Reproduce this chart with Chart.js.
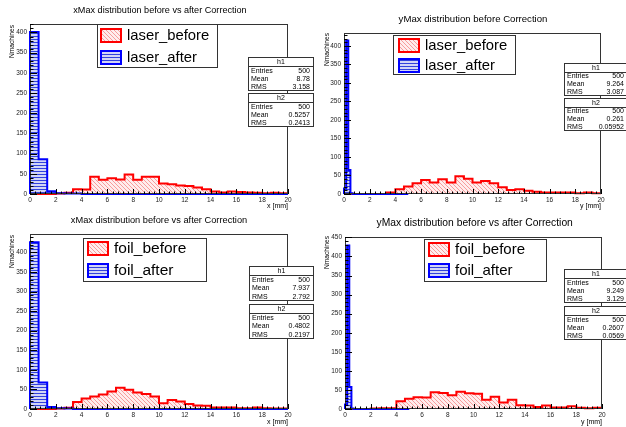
<!DOCTYPE html>
<html>
<head>
<meta charset="utf-8">
<script src="https://cdn.jsdelivr.net/npm/chart.js@4.4.1/dist/chart.umd.min.js"></script>
<style>
  html, body { margin: 0; padding: 0; background: #fff; }
  #wrap { position: relative; width: 626px; height: 427px; overflow: hidden; }
  canvas { position: absolute; }
  #c1, #c3 { z-index: 2; }
</style>
</head>
<body>
<div id="wrap">
  <canvas id="c1" width="316" height="213" style="left:0;top:0"></canvas>
  <canvas id="c2" width="313" height="213" style="left:313px;top:0"></canvas>
  <canvas id="c3" width="316" height="214" style="left:0;top:213px"></canvas>
  <canvas id="c4" width="313" height="214" style="left:313px;top:213px"></canvas>
</div>
<script>
// ---- data (30 bins per histogram) ----
const nBins = 30;
const fullRange = [0, 20];
const narrowRange = [0, 5];   // h2 of the y plots only spans 0..5 mm

const laserXBefore = [0, 0, 0, 1, 3, 12, 11, 43, 35, 39, 36, 48, 35, 43, 43, 26, 24, 21, 20, 16, 12, 6, 4, 6, 5, 4, 3, 2, 3, 2];
const laserXAfter  = [401, 86, 7, 2, 1, 1, 0, 0, 0, 0, 0, 0, 0, 0, 0, 0, 0, 0, 0, 0, 0, 0, 0, 0, 0, 0, 0, 0, 0, 0];
const laserYBefore = [0, 0, 0, 0, 0, 4, 13, 20, 29, 38, 31, 40, 31, 48, 41, 31, 35, 29, 18, 11, 13, 9, 6, 4, 4, 4, 4, 2, 4, 2];
const laserYAfter  = [15, 415, 65, 2, 0, 0, 0, 0, 0, 0, 0, 0, 0, 0, 0, 0, 0, 0, 0, 0, 0, 0, 0, 0, 0, 0, 0, 0, 0, 0];
const foilXBefore  = [0, 0, 0, 1, 3, 18, 27, 32, 37, 45, 54, 49, 42, 38, 32, 15, 23, 19, 13, 9, 8, 4, 4, 4, 2, 2, 4, 2, 1, 1];
const foilXAfter   = [426, 68, 5, 2, 1, 0, 0, 0, 0, 0, 0, 0, 0, 0, 0, 0, 0, 0, 0, 0, 0, 0, 0, 0, 0, 0, 0, 0, 0, 0];
const foilYBefore  = [0, 0, 0, 1, 2, 2, 20, 27, 31, 30, 44, 42, 36, 45, 41, 40, 24, 32, 17, 24, 10, 9, 5, 9, 4, 4, 7, 3, 2, 3];
const foilYAfter   = [12, 429, 58, 1, 0, 0, 0, 0, 0, 0, 0, 0, 0, 0, 0, 0, 0, 0, 0, 0, 0, 0, 0, 0, 0, 0, 0, 0, 0, 0];

const xTickValues = [0, 2, 4, 6, 8, 10, 12, 14, 16, 18, 20];
const yTickValues = [0, 50, 100, 150, 200, 250, 300, 350, 400];
const yTickValuesTall = [0, 50, 100, 150, 200, 250, 300, 350, 400, 450];

const titles = [
  'xMax distribution before vs after Correction',
  'yMax distribution before Correction',
  'xMax distribution before vs after Correction',
  'yMax distribution before vs after Correction'
];
const legendLabels = [
  ['laser_before', 'laser_after'],
  ['laser_before', 'laser_after'],
  ['foil_before', 'foil_after'],
  ['foil_before', 'foil_after']
];
const xAxisTitles = ['x [mm]', 'y [mm]', 'x [mm]', 'y [mm]'];
const yAxisTitle = 'Nmachines';

const statNames = ['Entries', 'Mean', 'RMS'];
const statsH1 = [['500', '8.78', '3.158'], ['500', '9.264', '3.087'], ['500', '7.937', '2.792'], ['500', '9.249', '3.129']];
const statsH2 = [['500', '0.5257', '0.2413'], ['500', '0.261', '0.05952'], ['500', '0.4802', '0.2197'], ['500', '0.2607', '0.0569']];

// ---- look ----
const FONT = "'Liberation Sans', Arial, Helvetica, sans-serif";
const RED = '#ff0000';
const BLUE = '#0000ff';

function makePattern(kind) {
  const c = document.createElement('canvas');
  const g = c.getContext('2d');
  if (kind === 'diag') {
    c.width = 4; c.height = 4;
    g.fillStyle = 'rgba(255,225,225,0.6)';
    g.fillRect(0, 0, 4, 4);
    g.strokeStyle = 'rgba(240,90,90,0.55)';
    g.lineWidth = 1;
    g.beginPath();
    g.moveTo(-1, -1); g.lineTo(5, 5);
    g.moveTo(-1, 3); g.lineTo(1, 5);
    g.moveTo(3, -1); g.lineTo(5, 1);
    g.stroke();
  } else {
    c.width = 4; c.height = 3;
    g.fillStyle = '#d2d5f6';
    g.fillRect(0, 0, 4, 3);
    g.fillStyle = '#3242dc';
    g.fillRect(0, 0, 4, 1);
  }
  return g.createPattern(c, 'repeat');
}
const redHatch = makePattern('diag');
const blueHatch = makePattern('horiz');

// outline of a ROOT-like histogram as step points on bin edges
function histPoints(counts, range) {
  const w = (range[1] - range[0]) / counts.length;
  const pts = [{ x: range[0], y: 0 }];
  counts.forEach((c, i) => pts.push({ x: range[0] + i * w, y: c }));
  pts.push({ x: range[1], y: counts[counts.length - 1] });
  pts.push({ x: range[1], y: 0 });
  return pts;
}

function histDataset(counts, range, color, pattern) {
  return {
    data: histPoints(counts, range),
    stepped: 'before',
    borderColor: color,
    borderWidth: 2,
    backgroundColor: pattern,
    fill: 'origin',
    pointRadius: 0,
    tension: 0,
    clip: 4
  };
}

const panels = [
  { id: 'c1', idx: 0, before: laserXBefore, after: laserXAfter, afterRange: fullRange, yMax: 421, yTicks: yTickValues,
    area: { left: 30, right: 288, top: 24, bottom: 194 },
    title: { x: 160, y: 10.5, size: 9.1 }, yLab: { x: 12, y: 25 }, xLabY: 206.5,
    legend: { x: 97, y: 24, w: 121, h: 44, sw: 100, sy: [28, 50], tx: 127, size: 14.8 },
    stats: { x: 248, w: 66, y1: 57, y2: 93, h: 34 } },
  { id: 'c2', idx: 1, before: laserYBefore, after: laserYAfter, afterRange: narrowRange, yMax: 435, yTicks: yTickValues,
    area: { left: 31, right: 288, top: 33, bottom: 194 },
    title: { x: 160, y: 19.5, size: 9.6 }, yLab: { x: 14, y: 33 }, xLabY: 206,
    legend: { x: 80, y: 35, w: 123, h: 40, sw: 85, sy: [38, 58], tx: 112, size: 14.8 },
    stats: { x: 251, w: 64, y1: 63, y2: 98, h: 33 } },
  { id: 'c3', idx: 2, before: foilXBefore, after: foilXAfter, afterRange: fullRange, yMax: 447, yTicks: yTickValues,
    area: { left: 30, right: 288, top: 21, bottom: 196 },
    title: { x: 159, y: 7, size: 9.25 }, yLab: { x: 12.5, y: 22 }, xLabY: 209,
    legend: { x: 83, y: 25, w: 124, h: 44, sw: 87, sy: [28, 50], tx: 114, size: 15.5 },
    stats: { x: 249, w: 65, y1: 53, y2: 91, h: 35 } },
  { id: 'c4', idx: 3, before: foilYBefore, after: foilYAfter, afterRange: narrowRange, yMax: 451, yTicks: yTickValuesTall,
    area: { left: 32, right: 289, top: 24, bottom: 196 },
    title: { x: 161.7, y: 10, size: 10.3 }, yLab: { x: 14.5, y: 23 }, xLabY: 209,
    legend: { x: 111, y: 26, w: 123, h: 43, sw: 115, sy: [29, 50], tx: 142, size: 15 },
    stats: { x: 251, w: 64, y1: 56, y2: 93, h: 34 } }
];

function drawStatBox(ctx, x, y, w, h, name, values) {
  ctx.fillStyle = '#fff';
  ctx.fillRect(x, y, w, h);
  ctx.strokeStyle = '#333';
  ctx.lineWidth = 1;
  ctx.strokeRect(x + 0.5, y + 0.5, w - 1, h - 1);
  const head = 9;
  ctx.beginPath();
  ctx.moveTo(x, y + head + 0.5);
  ctx.lineTo(x + w, y + head + 0.5);
  ctx.stroke();
  ctx.fillStyle = '#000';
  ctx.font = `7px ${FONT}`;
  ctx.textBaseline = 'middle';
  ctx.textAlign = 'center';
  ctx.fillText(name, x + w / 2, y + head / 2 + 0.5);
  const rowH = (h - head) / 3;
  statNames.forEach((s, i) => {
    const cy = y + head + rowH * (i + 0.5) + 0.5;
    ctx.textAlign = 'left';
    ctx.fillText(s, x + 3, cy);
    ctx.textAlign = 'right';
    ctx.fillText(values[i], x + w - 4, cy);
  });
}

function decor(p) {
  return {
    id: 'rootDecor',
    afterDatasetsDraw(chart) {
      const { ctx, chartArea: a, scales: { x, y } } = chart;
      ctx.save();
      ctx.strokeStyle = '#333';
      ctx.lineWidth = 1;
      ctx.strokeRect(Math.round(a.left) + 0.5, Math.round(a.top) + 0.5,
        Math.round(a.right - a.left) - 1, Math.round(a.bottom - a.top) - 1);
      ctx.strokeStyle = '#000';
      ctx.beginPath();
      for (let i = 0; i <= 50; i++) {
        const px = Math.round(x.getPixelForValue(i * 0.4)) + 0.5;
        const len = i % 5 === 0 ? 5 : 2.5;
        ctx.moveTo(px, a.bottom);
        ctx.lineTo(px, a.bottom - len);
      }
      for (let v = 0; v <= p.yMax; v += 10) {
        const py = Math.round(y.getPixelForValue(v)) + 0.5;
        const len = v % 50 === 0 ? 7 : 3.5;
        ctx.moveTo(a.left, py);
        ctx.lineTo(a.left + len, py);
      }
      ctx.stroke();
      ctx.restore();
    },
    afterDraw(chart) {
      const ctx = chart.ctx;
      ctx.save();
      // title
      ctx.fillStyle = '#000';
      ctx.font = `${p.title.size}px ${FONT}`;
      ctx.textAlign = 'center';
      ctx.textBaseline = 'middle';
      ctx.fillText(titles[p.idx], p.title.x, p.title.y);
      // axis titles
      ctx.font = `7px ${FONT}`;
      ctx.textAlign = 'right';
      ctx.fillText(xAxisTitles[p.idx], p.area.right, p.xLabY);
      ctx.save();
      ctx.translate(p.yLab.x, p.yLab.y);
      ctx.rotate(-Math.PI / 2);
      ctx.font = `6.6px ${FONT}`;
      ctx.fillText(yAxisTitle, 0, 0);
      ctx.restore();
      // legend box
      const L = p.legend;
      ctx.fillStyle = '#fff';
      ctx.fillRect(L.x, L.y, L.w, L.h);
      ctx.strokeStyle = '#333';
      ctx.lineWidth = 1;
      ctx.strokeRect(L.x + 0.5, L.y + 0.5, L.w - 1, L.h - 1);
      const swatch = [[redHatch, RED], [blueHatch, BLUE]];
      swatch.forEach(([pat, col], i) => {
        const sy = L.sy[i];
        ctx.fillStyle = pat;
        ctx.fillRect(L.sw, sy, 22, 15);
        ctx.strokeStyle = col;
        ctx.lineWidth = 2;
        ctx.strokeRect(L.sw + 1, sy + 1, 20, 13);
        ctx.fillStyle = '#000';
        ctx.font = `${L.size}px ${FONT}`;
        ctx.textAlign = 'left';
        ctx.textBaseline = 'middle';
        ctx.fillText(legendLabels[p.idx][i], L.tx, sy + 7.5);
      });
      // stats boxes
      const S = p.stats;
      drawStatBox(ctx, S.x, S.y1, S.w, S.h, 'h1', statsH1[p.idx]);
      drawStatBox(ctx, S.x, S.y2, S.w, S.h, 'h2', statsH2[p.idx]);
      ctx.restore();
    }
  };
}

panels.forEach(p => {
  const canvas = document.getElementById(p.id);
  const W = canvas.width, H = canvas.height;
  const tickFont = { family: FONT, size: 6.5 };
  new Chart(canvas.getContext('2d'), {
    type: 'line',
    data: {
      datasets: [
        histDataset(p.after, p.afterRange, BLUE, blueHatch),   // drawn on top
        histDataset(p.before, fullRange, RED, redHatch)
      ]
    },
    options: {
      responsive: false,
      animation: false,
      devicePixelRatio: 1,
      layout: { padding: { left: 0, bottom: 0, top: p.area.top, right: W - p.area.right } },
      plugins: { legend: { display: false }, tooltip: { enabled: false }, title: { display: false } },
      elements: { line: { borderJoinStyle: 'miter' } },
      scales: {
        x: {
          type: 'linear', min: fullRange[0], max: fullRange[1],
          afterBuildTicks: s => { s.ticks = xTickValues.map(v => ({ value: v })); },
          afterFit: s => { s.height = H - p.area.bottom; },
          ticks: { autoSkip: false, maxRotation: 0, padding: 2, font: tickFont, color: '#222' },
          grid: { display: false, drawTicks: false },
          border: { display: false }
        },
        y: {
          type: 'linear', min: 0, max: p.yMax,
          afterBuildTicks: s => { s.ticks = p.yTicks.map(v => ({ value: v })); },
          afterFit: s => { s.width = p.area.left; },
          ticks: { autoSkip: false, padding: 3, font: tickFont, color: '#222' },
          grid: { display: false, drawTicks: false },
          border: { display: false }
        }
      }
    },
    plugins: [decor(p)]
  });
});
</script>
</body>
</html>
